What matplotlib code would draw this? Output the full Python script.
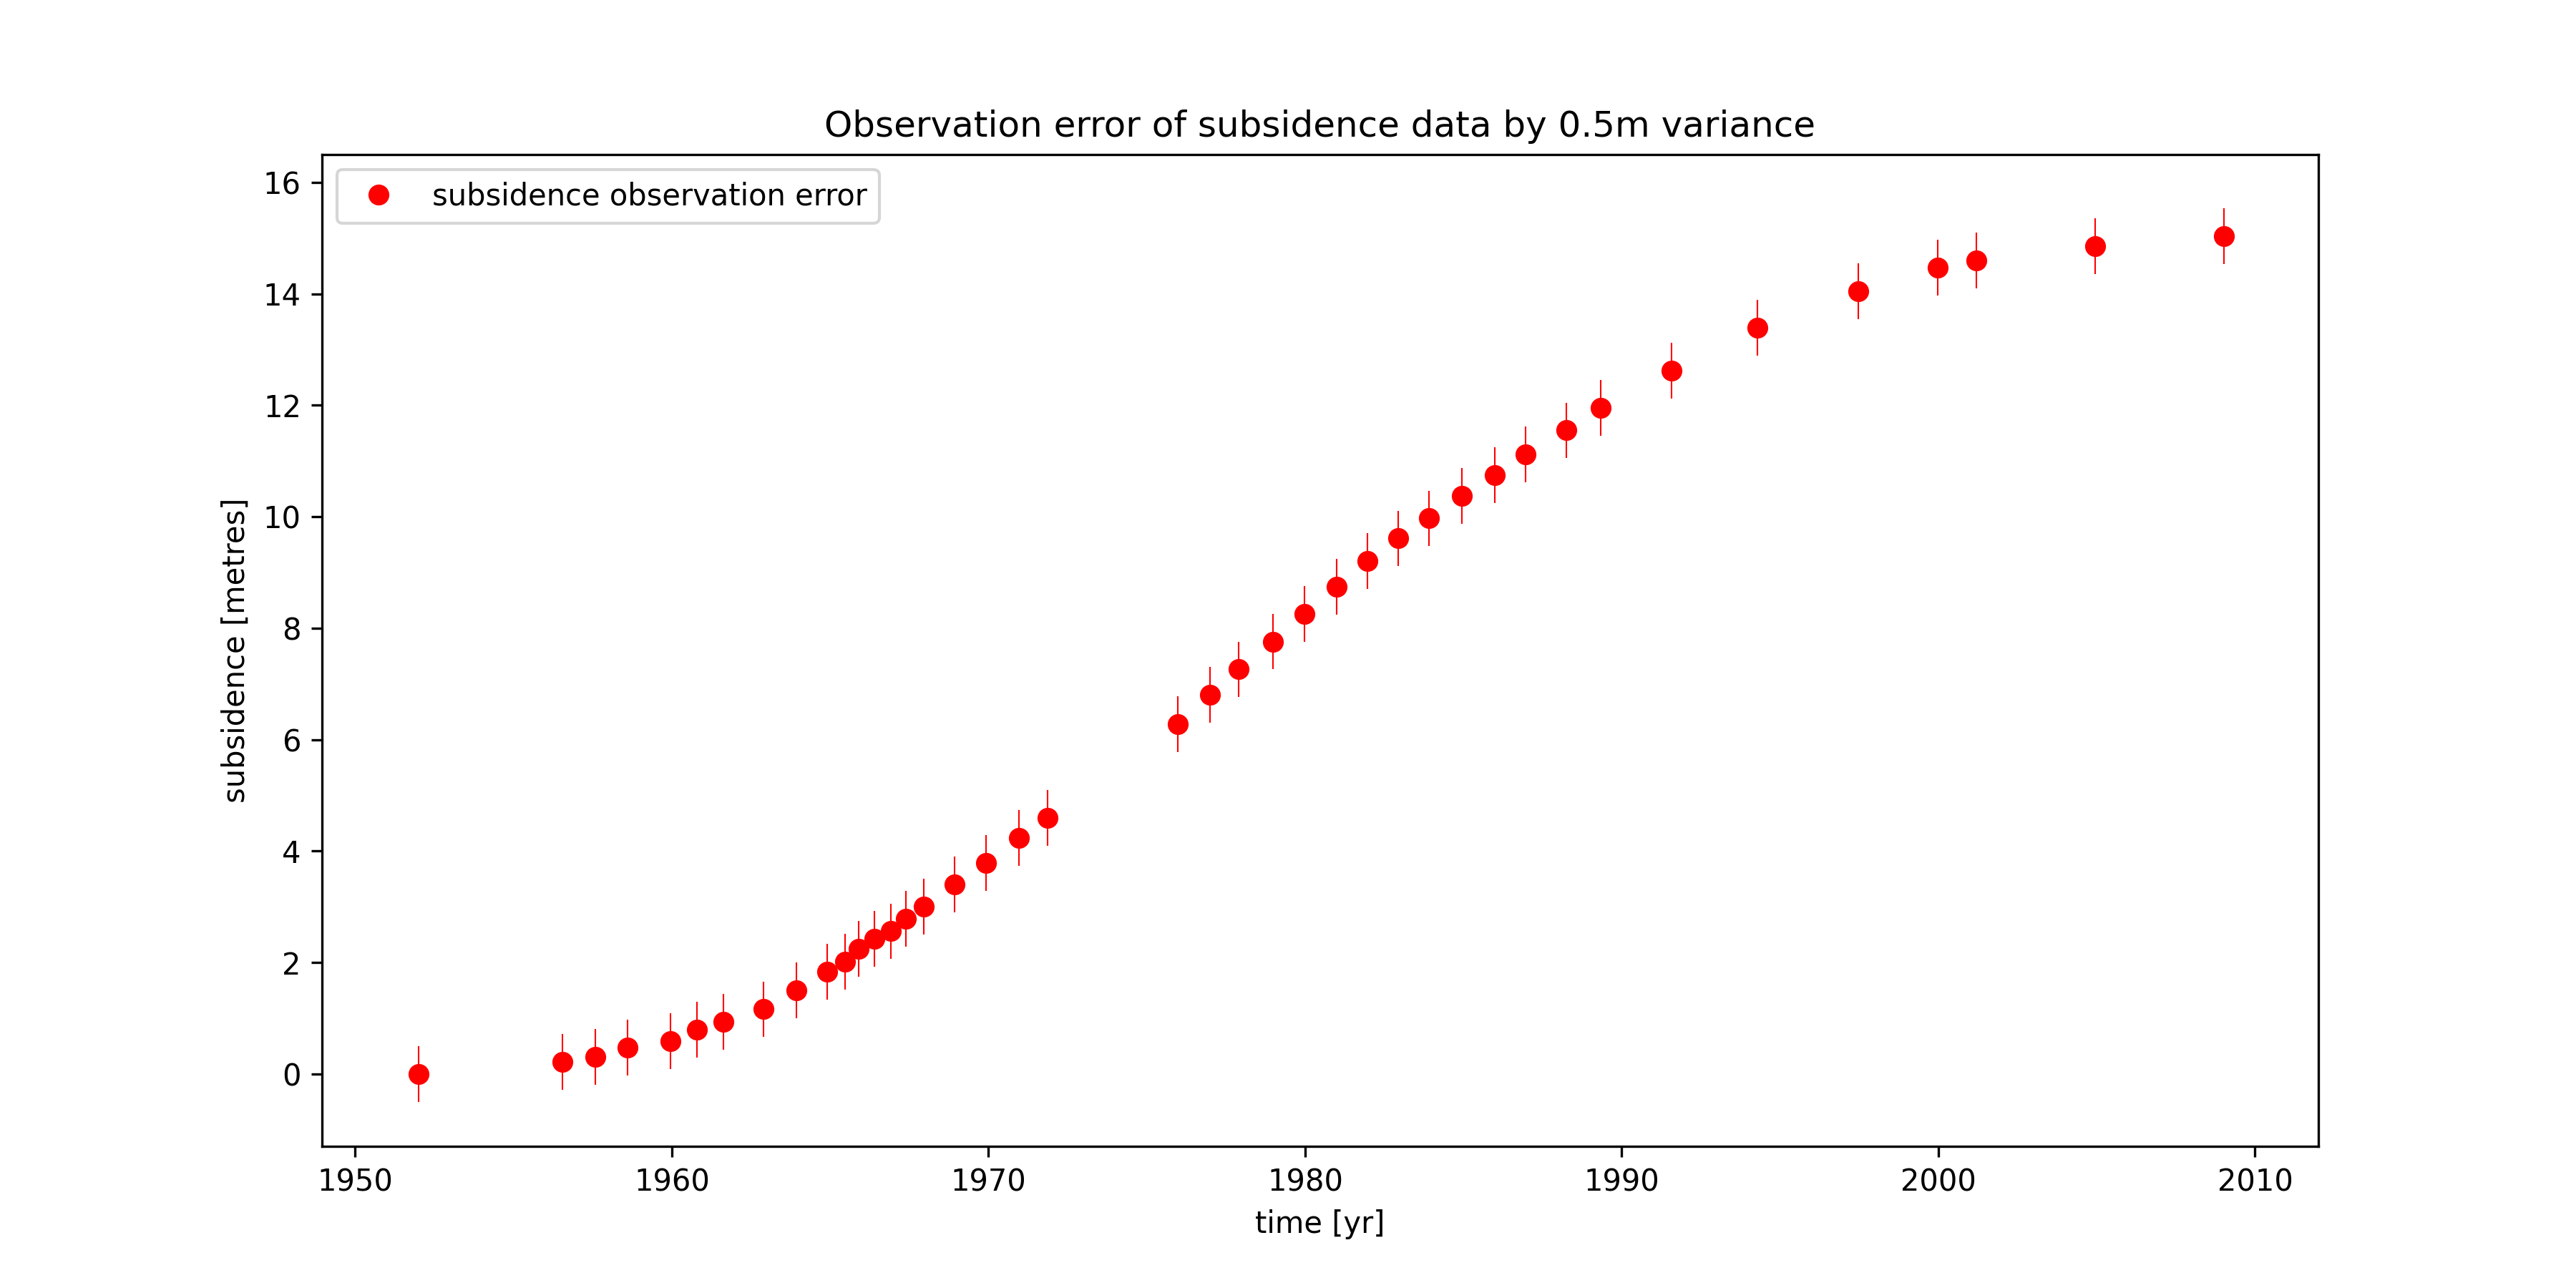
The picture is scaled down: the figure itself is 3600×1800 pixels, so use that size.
import numpy as np
import matplotlib
matplotlib.use('Agg')
import matplotlib.pyplot as plt

# ── Data ──────────────────────────────────────────────────────
years = [1952.0, 1956.55, 1957.58, 1958.6, 1959.96, 1960.8, 1961.63, 1962.9,
         1963.93, 1964.9, 1965.47, 1965.9, 1966.4, 1966.91, 1967.4, 1967.96,
         1968.93, 1969.92, 1970.97, 1971.86,
         1975.97, 1976.99, 1977.89, 1978.99, 1979.97, 1981.0, 1981.97, 1982.93,
         1983.9, 1984.94, 1985.98, 1986.95, 1988.25, 1989.33, 1991.57,
         1994.28, 1997.47, 1999.98, 2001.2, 2004.95, 2009.02]
subsidence = [0.0, 0.22, 0.3, 0.47, 0.59, 0.79, 0.94, 1.16,
              1.5, 1.83, 2.01, 2.24, 2.42, 2.56, 2.78, 3.0,
              3.4, 3.79, 4.23, 4.6,
              6.28, 6.8, 7.26, 7.76, 8.25, 8.74, 9.21, 9.61,
              9.97, 10.37, 10.75, 11.12, 11.55, 11.95, 12.62,
              13.39, 14.05, 14.47, 14.6, 14.86, 15.04]
obs_error = 0.5

fig, ax = plt.subplots(figsize=(12, 6))
ax.errorbar(years, subsidence, yerr=obs_error, fmt='none', ecolor='red', elinewidth=0.5)
ax.plot(years, subsidence, 'ro', label='subsidence observation error')
ax.set_xlim(1948.95, 2012.0)
ax.set_ylim(-1.3, 16.5)
ax.set_title('Observation error of subsidence data by 0.5m variance')
ax.set_xlabel('time [yr]')
ax.set_ylabel('subsidence [metres]')
ax.legend(loc='upper left')

plt.savefig('out.png', dpi=300)
plt.close()
